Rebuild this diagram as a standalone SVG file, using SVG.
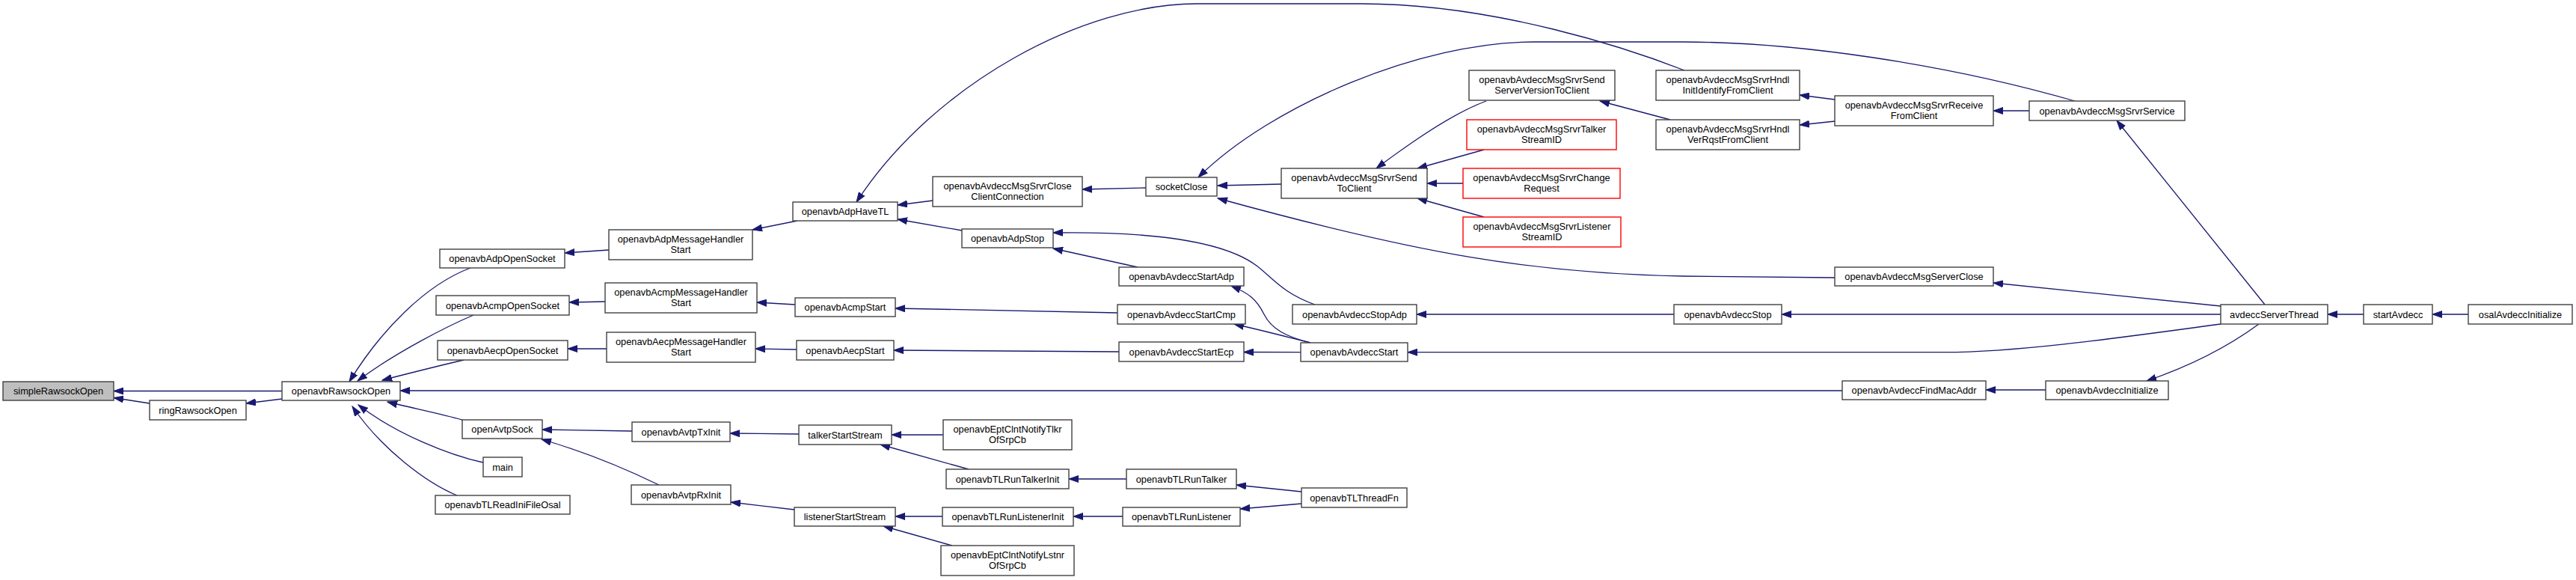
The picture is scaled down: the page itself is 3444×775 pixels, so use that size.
<svg xmlns="http://www.w3.org/2000/svg" width="3444" height="775" viewBox="0 0 3444 775">
<style>
.n rect{fill:#fff;stroke:#404040;stroke-width:1.4}
.n.g rect{fill:#bfbfbf}
.n.r rect{stroke:#ff0000}
.n text{font-family:"Liberation Sans",Arial,sans-serif;font-size:12.8px;text-anchor:middle;fill:#000}
#edges path{fill:none;stroke:#191970;stroke-width:1.3;marker-end:url(#ah)}
</style>
<defs>
<marker id="ah" markerWidth="14" markerHeight="10" refX="13" refY="5" orient="auto" markerUnits="userSpaceOnUse">
<path d="M0,0.5 L13,5 L0,9.5 z" fill="#191970" stroke="#191970" stroke-width="1"/>
</marker>
</defs>
<rect width="3444" height="775" fill="#fff"/>
<g id="edges">
<path d="M377,522.5 L152,522.5"/>
<path d="M200,539 L152,531.5"/>
<path d="M377,533 L329,539"/>
<path d="M629,358 C570,380 510,440 467,510"/>
<path d="M633,421 C600,435 530,470 478,509"/>
<path d="M620,481 C590,488 550,498 511,508"/>
<path d="M2463,522 L535,522"/>
<path d="M618,561 C590,553 550,545 518,537"/>
<path d="M646,618 C600,608 530,580 479,541"/>
<path d="M611,662 C570,645 510,600 471,543"/>
<path d="M814,334 L755,338"/>
<path d="M1066,295 L1006,307"/>
<path d="M809,403 L761,404"/>
<path d="M1063,407 L1012,404"/>
<path d="M811,466 L759,466"/>
<path d="M1065,467 L1010,466"/>
<path d="M845,576 L725,574"/>
<path d="M881,648 C850,633 790,606 724,587"/>
<path d="M1068,580 L976,579"/>
<path d="M1062,681 L977,671"/>
<path d="M1247,268 L1200,274"/>
<path d="M1286,308 L1200,293"/>
<path d="M2252,94 C2180,66 2000,5 1820,5 L1600,5 C1450,5 1250,110 1145,270"/>
<path d="M1532,251 L1447,253"/>
<path d="M1713,246 L1628,248"/>
<path d="M2774,135 C2600,85 2400,56 2250,56 L2050,56 C1900,56 1700,140 1602,237"/>
<path d="M2453,371 L2250,369 C2050,365 1900,340 1628,265"/>
<path d="M1521,357 L1408,332"/>
<path d="M1758,407 C1715,392 1700,370 1680,355 C1640,325 1550,309 1408,311"/>
<path d="M1494,418 L1197,412"/>
<path d="M1496,470 L1195,468"/>
<path d="M1752,458 C1720,450 1700,440 1690,420 C1680,400 1670,392 1646,382"/>
<path d="M1752,458 C1720,450 1690,442 1650,433"/>
<path d="M1739,470.7 L1663,470.5"/>
<path d="M1261,581 L1192,581"/>
<path d="M1295,627 L1177,594"/>
<path d="M1260,690 L1197,690"/>
<path d="M1273,729 L1181,703"/>
<path d="M1506,640 L1429,640"/>
<path d="M1501,690 L1435,690"/>
<path d="M1740,657 L1653,648"/>
<path d="M1740,673 L1658,680"/>
<path d="M1987,135 C1960,145 1920,165 1840,225"/>
<path d="M1984,200 L1895,225"/>
<path d="M1956,245 L1908,245"/>
<path d="M1984,290 L1895,265"/>
<path d="M2233,160 L2139,135"/>
<path d="M2453,133 L2406,127"/>
<path d="M2453,162 L2406,167"/>
<path d="M2713,148 L2665,148"/>
<path d="M3028,407 L2830,161"/>
<path d="M2969,409 L2665,378"/>
<path d="M2238,420 L1894,420"/>
<path d="M2969,420 L2382,420"/>
<path d="M2969,433 C2850,449 2700,470.7 2600,470.7 L1882,470.7"/>
<path d="M2735,521 L2655,521"/>
<path d="M3020,433 C2990,455 2940,485 2870,509"/>
<path d="M3160,420 L3112,420"/>
<path d="M3300,420 L3252,420"/>
</g>
<g id="n1" class="n g"><rect x="4" y="510" width="148" height="25"/><text x="78" y="527">simpleRawsockOpen</text></g>
<g id="n2" class="n"><rect x="200" y="535" width="129" height="26"/><text x="264.5" y="552.5">ringRawsockOpen</text></g>
<g id="n3" class="n"><rect x="377" y="510" width="158" height="25"/><text x="456" y="527">openavbRawsockOpen</text></g>
<g id="n4" class="n"><rect x="588" y="333" width="167" height="25"/><text x="671.5" y="350">openavbAdpOpenSocket</text></g>
<g id="n5" class="n"><rect x="583" y="395" width="178" height="26"/><text x="672" y="412.5">openavbAcmpOpenSocket</text></g>
<g id="n6" class="n"><rect x="585" y="455" width="174" height="26"/><text x="672" y="472.5">openavbAecpOpenSocket</text></g>
<g id="n7" class="n"><rect x="618" y="561" width="107" height="25"/><text x="671.5" y="578">openAvtpSock</text></g>
<g id="n8" class="n"><rect x="646" y="611" width="52" height="26"/><text x="672" y="628.5">main</text></g>
<g id="n9" class="n"><rect x="582" y="662" width="180" height="25"/><text x="672" y="679">openavbTLReadIniFileOsal</text></g>
<g id="n10" class="n"><rect x="814" y="307" width="192" height="40"/><text x="910" y="323.5">openavbAdpMessageHandler</text><text x="910" y="338">Start</text></g>
<g id="n11" class="n"><rect x="809" y="378" width="203" height="40"/><text x="910.5" y="394.5">openavbAcmpMessageHandler</text><text x="910.5" y="409">Start</text></g>
<g id="n12" class="n"><rect x="811" y="444" width="199" height="40"/><text x="910.5" y="460.5">openavbAecpMessageHandler</text><text x="910.5" y="475">Start</text></g>
<g id="n13" class="n"><rect x="845" y="564" width="131" height="26"/><text x="910.5" y="581.5">openavbAvtpTxInit</text></g>
<g id="n14" class="n"><rect x="844" y="648" width="133" height="26"/><text x="910.5" y="665.5">openavbAvtpRxInit</text></g>
<g id="n15" class="n"><rect x="1060" y="270" width="140" height="25"/><text x="1130" y="287">openavbAdpHaveTL</text></g>
<g id="n16" class="n"><rect x="1063" y="398" width="134" height="25"/><text x="1130" y="415">openavbAcmpStart</text></g>
<g id="n17" class="n"><rect x="1065" y="455" width="130" height="26"/><text x="1130" y="472.5">openavbAecpStart</text></g>
<g id="n18" class="n"><rect x="1068" y="568" width="124" height="26"/><text x="1130" y="585.5">talkerStartStream</text></g>
<g id="n19" class="n"><rect x="1062" y="678" width="135" height="25"/><text x="1129.5" y="695">listenerStartStream</text></g>
<g id="n20" class="n"><rect x="1247" y="236" width="200" height="40"/><text x="1347" y="252.5">openavbAvdeccMsgSrvrClose</text><text x="1347" y="267">ClientConnection</text></g>
<g id="n21" class="n"><rect x="1286" y="306" width="122" height="25"/><text x="1347" y="323">openavbAdpStop</text></g>
<g id="n22" class="n"><rect x="1261" y="561" width="172" height="40"/><text x="1347" y="577.5">openavbEptClntNotifyTlkr</text><text x="1347" y="592">OfSrpCb</text></g>
<g id="n23" class="n"><rect x="1265" y="627" width="164" height="26"/><text x="1347" y="644.5">openavbTLRunTalkerInit</text></g>
<g id="n24" class="n"><rect x="1260" y="678" width="175" height="25"/><text x="1347.5" y="695">openavbTLRunListenerInit</text></g>
<g id="n25" class="n"><rect x="1258" y="729" width="178" height="40"/><text x="1347" y="745.5">openavbEptClntNotifyLstnr</text><text x="1347" y="760">OfSrpCb</text></g>
<g id="n26" class="n"><rect x="1532" y="237" width="95" height="25"/><text x="1579.5" y="254">socketClose</text></g>
<g id="n27" class="n"><rect x="1496" y="357" width="167" height="25"/><text x="1579.5" y="374">openavbAvdeccStartAdp</text></g>
<g id="n28" class="n"><rect x="1494" y="407" width="171" height="26"/><text x="1579.5" y="424.5">openavbAvdeccStartCmp</text></g>
<g id="n29" class="n"><rect x="1496" y="457" width="167" height="26"/><text x="1579.5" y="474.5">openavbAvdeccStartEcp</text></g>
<g id="n30" class="n"><rect x="1506" y="627" width="147" height="26"/><text x="1579.5" y="644.5">openavbTLRunTalker</text></g>
<g id="n31" class="n"><rect x="1501" y="678" width="157" height="25"/><text x="1579.5" y="695">openavbTLRunListener</text></g>
<g id="n32" class="n"><rect x="1713" y="225" width="195" height="40"/><text x="1810.5" y="241.5">openavbAvdeccMsgSrvrSend</text><text x="1810.5" y="256">ToClient</text></g>
<g id="n33" class="n"><rect x="1728" y="407" width="166" height="26"/><text x="1811" y="424.5">openavbAvdeccStopAdp</text></g>
<g id="n34" class="n"><rect x="1739" y="458" width="143" height="25"/><text x="1810.5" y="475">openavbAvdeccStart</text></g>
<g id="n35" class="n"><rect x="1740" y="652" width="141" height="26"/><text x="1810.5" y="669.5">openavbTLThreadFn</text></g>
<g id="n36" class="n"><rect x="1964" y="94" width="195" height="40"/><text x="2061.5" y="110.5">openavbAvdeccMsgSrvrSend</text><text x="2061.5" y="125">ServerVersionToClient</text></g>
<g id="n37" class="n r"><rect x="1961" y="160" width="200" height="40"/><text x="2061" y="176.5">openavbAvdeccMsgSrvrTalker</text><text x="2061" y="191">StreamID</text></g>
<g id="n38" class="n r"><rect x="1956" y="225" width="210" height="40"/><text x="2061" y="241.5">openavbAvdeccMsgSrvrChange</text><text x="2061" y="256">Request</text></g>
<g id="n39" class="n r"><rect x="1956" y="290" width="211" height="40"/><text x="2061.5" y="306.5">openavbAvdeccMsgSrvrListener</text><text x="2061.5" y="321">StreamID</text></g>
<g id="n40" class="n"><rect x="2214" y="94" width="192" height="40"/><text x="2310" y="110.5">openavbAvdeccMsgSrvrHndl</text><text x="2310" y="125">InitIdentifyFromClient</text></g>
<g id="n41" class="n"><rect x="2214" y="160" width="192" height="40"/><text x="2310" y="176.5">openavbAvdeccMsgSrvrHndl</text><text x="2310" y="191">VerRqstFromClient</text></g>
<g id="n42" class="n"><rect x="2238" y="407" width="144" height="26"/><text x="2310" y="424.5">openavbAvdeccStop</text></g>
<g id="n43" class="n"><rect x="2453" y="128" width="212" height="40"/><text x="2559" y="144.5">openavbAvdeccMsgSrvrReceive</text><text x="2559" y="159">FromClient</text></g>
<g id="n44" class="n"><rect x="2453" y="357" width="212" height="25"/><text x="2559" y="374">openavbAvdeccMsgServerClose</text></g>
<g id="n45" class="n"><rect x="2463" y="509" width="192" height="25"/><text x="2559" y="526">openavbAvdeccFindMacAddr</text></g>
<g id="n46" class="n"><rect x="2713" y="135" width="208" height="26"/><text x="2817" y="152.5">openavbAvdeccMsgSrvrService</text></g>
<g id="n47" class="n"><rect x="2735" y="509" width="164" height="25"/><text x="2817" y="526">openavbAvdeccInitialize</text></g>
<g id="n48" class="n"><rect x="2969" y="407" width="143" height="26"/><text x="3040.5" y="424.5">avdeccServerThread</text></g>
<g id="n49" class="n"><rect x="3160" y="407" width="92" height="26"/><text x="3206" y="424.5">startAvdecc</text></g>
<g id="n50" class="n"><rect x="3300" y="407" width="139" height="26"/><text x="3369.5" y="424.5">osalAvdeccInitialize</text></g>
</svg>
